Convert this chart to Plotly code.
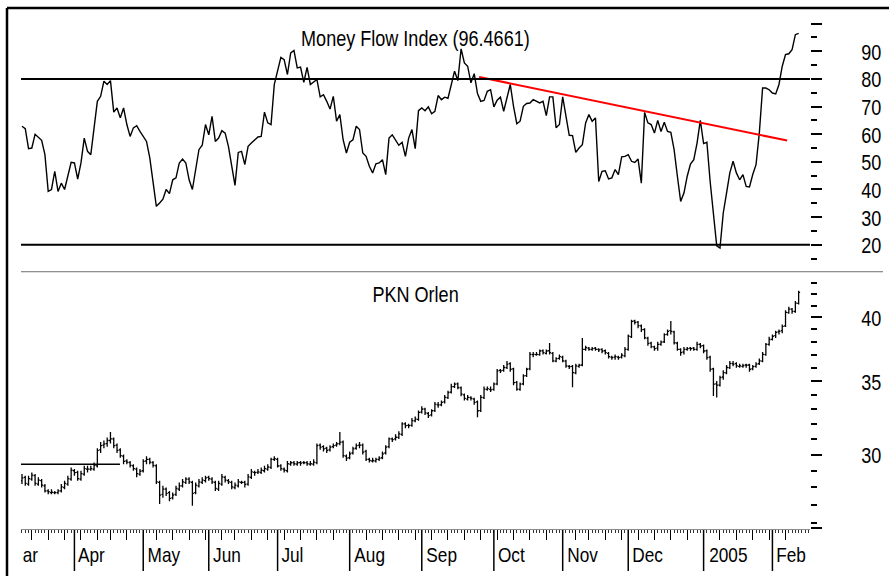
import math
import pandas as pd
import plotly.graph_objects as go

FONT = "Liberation Sans, Arial, Helvetica, sans-serif"
FS = 21

# ---------------- data ----------------
start_date = "2004-03-10"
holidays = ["2004-04-12", "2004-05-03", "2004-06-10", "2004-11-01", "2004-11-11"]

mfi = [
    62.9, 62, 54.8, 55, 60, 59, 57.8, 52.6, 39.3, 40, 46.6, 39.3, 42.3, 40, 44.8, 49.8, 49.6, 43.8, 49.6, 58.6,
    53.8, 52.6, 62.3, 71.9, 73.7, 79.2, 78, 79.4, 68, 69.5, 65.9, 69.5, 63.5, 59.2, 62.3, 63.1, 61, 59.2, 57.4, 51.4,
    43.5, 33.9,
    35.1, 36.5, 40, 38.5, 43.5, 44.2, 49.6, 51, 49.6, 43.5, 40, 47.2, 54.4, 56, 63.5, 59.8, 66.5, 57.4, 58.6, 61.3,
    60.4, 55.6, 48.4, 41.5, 53.4, 53.8, 49, 55.6, 56.8, 58, 59, 59.2, 68, 64.1, 63.5, 78, 82.8, 87.8, 87, 81.6,
    89.4, 90.3, 84, 84.3,
    78.8, 84.2, 78, 78.8, 79.8, 73.5, 74.3, 71.9, 69.1, 73.7, 64.7, 67.1, 58, 53.2, 57.1, 58, 62.9, 61.7, 53.2, 52,
    48.4, 46, 49.3, 49.6, 50.8, 45.4, 58.6, 59.8, 58, 56, 57.1, 52, 58.6, 61.7, 54.8, 68.5, 69.5, 68.5, 69.9, 67.4,
    68.3, 74, 72.5, 73.4, 73, 78, 82.8, 79.4, 90.9, 85.8, 84.6, 78.6, 81.9, 74.7, 71.9, 72.2, 75.5, 76.1, 69.9, 72.3,
    73.4, 68.3, 73.7, 78, 70.1, 63.8, 64.7, 70.1, 71.1, 71.3, 72.5, 71.9, 71.3, 71.9, 66.7, 73.5, 73.5, 62.3, 63.5, 73.5,
    67.1, 59.6, 59.5, 53.4, 55, 56.2, 64.1, 67.1, 64.7, 65.9,
    42.9, 46.6, 46.8, 43.8, 44.2, 47.2, 45.4, 51.8, 52, 52.6, 50.2, 49.8, 51, 42.3, 67.9, 64.1, 63.5, 60.4, 65, 61,
    64.3, 61, 60.7, 54.4, 44.8, 35.7, 38.7, 44.8, 49.2, 50.8, 56.8, 65, 56.6, 57.1, 42.9, 31.5, 19.6, 18.8, 31.5, 38.7,
    46, 50.2, 46, 43.5, 45.4, 41.1, 40.9, 45.4, 49, 60.4, 76.7, 76.7, 76.1, 74.9, 74.6, 78, 84.6, 88.8, 89.1, 90.6,
    96, 96.4661,
]

price_open = [
    28.4, 28.6, 28.2, 28.5, 28.7, 28.2, 28.4, 28.1, 27.8, 27.7,
    27.7, 27.7, 27.8, 28.0, 28.2, 28.5, 29.0, 28.9, 28.5, 28.8,
    29.1, 29.1, 29.1, 29.3, 30.3, 30.6, 30.7, 30.9, 31.0, 30.6,
    30.3, 29.9, 29.6, 29.5, 29.3, 29.1, 28.8, 29.0, 29.6, 29.7,
    29.5, 29.3, 28.3, 27.6, 27.9, 27.7, 27.4, 27.6, 27.9, 28.1,
    28.3, 28.5, 28.3, 27.7, 28.1, 28.3, 28.4, 28.6, 28.5, 28.3,
    27.9, 28.2, 28.6, 28.4, 28.3, 28.0, 28.1, 28.3, 28.3, 28.2,
    28.6, 28.9, 28.9, 28.9, 29.0, 29.1, 29.2, 29.7, 29.7, 29.3,
    29.1, 29.0, 29.4, 29.5, 29.4, 29.5, 29.5, 29.5, 29.4, 29.4,
    29.5, 30.6, 30.5, 30.4, 30.3, 30.5, 30.6, 30.7, 30.8, 29.9,
    29.8, 30.1, 30.4, 30.6, 30.6, 30.2, 29.7, 29.6, 29.6, 29.7,
    29.8, 30.1, 30.5, 31.0, 31.0, 31.1, 31.3, 32.0, 31.9, 31.9,
    32.2, 32.3, 32.8, 33.0, 32.7, 32.6, 32.9, 33.3, 33.3, 33.5,
    33.8, 34.2, 34.6, 34.8, 34.5, 34.0, 33.7, 33.8, 33.7, 33.5,
    32.9, 33.8, 34.4, 34.4, 34.4, 34.8, 35.8, 35.8, 36.0, 36.3,
    35.9, 34.9, 34.4, 34.8, 35.4, 35.9, 37.0, 37.0, 37.0, 37.3,
    37.1, 37.3, 37.1, 36.5, 36.7, 36.8, 36.5, 36.1, 36.1, 35.6,
    36.1, 36.2, 37.4, 37.5, 37.4, 37.5, 37.4, 37.4, 37.3, 37.1,
    36.8, 36.8, 36.8, 36.8, 36.9, 37.4, 38.4, 39.7, 39.6, 39.3,
    39.0, 38.3, 37.9, 37.6, 37.5, 37.8, 38.0, 38.6, 38.9, 38.8,
    37.9, 37.4, 37.2, 37.4, 37.5, 37.5, 37.4, 37.8, 37.7, 37.3,
    36.8, 35.9, 34.8, 34.7, 35.3, 35.6, 36.0, 36.3, 36.3, 36.1,
    36.1, 36.2, 36.2, 35.9, 36.1, 36.3, 36.5, 37.0, 37.8, 38.2,
    38.5, 38.8, 38.9, 39.3, 40.4, 40.7, 40.5, 41.2,
]

price_high = [
    28.8, 28.7, 28.7, 28.9, 28.8, 28.6, 28.5, 28.2, 27.9, 27.9,
    27.8, 27.9, 28.2, 28.4, 28.7, 29.2, 29.1, 29.0, 29.0, 29.3,
    29.3, 29.3, 29.5, 30.4, 30.8, 30.9, 31.1, 31.45, 31.1, 30.7,
    30.4, 30.0, 29.7, 29.6, 29.4, 29.2, 29.1, 29.7, 29.9, 29.8,
    29.6, 29.4, 28.4, 28.1, 28.0, 27.8, 27.7, 28.1, 28.3, 28.5,
    28.6, 28.6, 28.4, 28.3, 28.5, 28.6, 28.7, 28.7, 28.6, 28.4,
    28.4, 28.8, 28.7, 28.5, 28.4, 28.3, 28.5, 28.4, 28.4, 28.8,
    29.1, 29.0, 29.1, 29.2, 29.3, 29.4, 29.8, 29.9, 29.8, 29.4,
    29.2, 29.6, 29.6, 29.6, 29.6, 29.6, 29.6, 29.6, 29.6, 29.7,
    30.7, 30.7, 30.6, 30.5, 30.6, 30.7, 30.8, 31.45, 30.9, 30.0,
    30.2, 30.5, 30.7, 30.8, 30.7, 30.3, 29.8, 29.8, 29.8, 29.9,
    30.2, 30.6, 31.1, 31.1, 31.3, 31.5, 32.1, 32.1, 32.0, 32.4,
    32.5, 32.9, 33.2, 33.1, 32.8, 33.0, 33.5, 33.5, 33.6, 34.0,
    34.3, 34.8, 34.9, 34.9, 34.6, 34.1, 34.0, 33.9, 33.8, 33.6,
    34.0, 34.6, 34.6, 34.6, 34.9, 35.9, 35.9, 36.2, 36.5, 36.4,
    36.0, 35.0, 34.9, 35.5, 36.0, 37.2, 37.2, 37.2, 37.4, 37.4,
    37.4, 37.9, 37.2, 36.8, 37.0, 36.9, 36.6, 36.2, 36.2, 36.3,
    36.3, 38.3, 37.7, 37.6, 37.6, 37.6, 37.5, 37.5, 37.4, 37.2,
    36.9, 37.0, 36.9, 37.1, 37.6, 38.6, 39.8, 39.8, 39.7, 39.4,
    39.1, 38.4, 38.0, 37.7, 38.0, 38.1, 38.7, 39.0, 39.7, 38.9,
    38.0, 37.5, 37.6, 37.6, 37.6, 37.6, 38.0, 37.9, 37.8, 37.4,
    36.9, 36.0, 35.0, 35.4, 35.8, 36.2, 36.5, 36.5, 36.4, 36.3,
    36.3, 36.3, 36.3, 36.2, 36.4, 36.7, 37.2, 37.9, 38.4, 38.6,
    38.9, 39.0, 39.4, 40.6, 40.9, 40.8, 41.4, 42.3,
]

price_low = [
    28.2, 28.1, 28.1, 28.4, 28.1, 28.1, 28.0, 27.7, 27.6, 27.6,
    27.6, 27.6, 27.7, 27.9, 28.1, 28.4, 28.7, 28.4, 28.4, 28.7,
    28.9, 29.0, 29.0, 29.2, 30.1, 30.4, 30.5, 30.7, 30.4, 30.1,
    29.8, 29.4, 29.4, 29.2, 29.0, 28.6, 28.7, 28.9, 29.4, 29.4,
    29.2, 28.2, 27.05, 27.4, 27.5, 27.2, 27.3, 27.5, 27.8, 28.0,
    28.2, 28.2, 26.95, 27.6, 28.0, 28.2, 28.3, 28.4, 28.2, 27.8,
    27.8, 28.1, 28.3, 28.2, 27.9, 27.9, 28.0, 28.2, 28.0, 28.1,
    28.5, 28.7, 28.8, 28.8, 28.9, 29.0, 29.1, 29.6, 29.2, 29.0,
    28.9, 28.9, 29.3, 29.3, 29.3, 29.3, 29.4, 29.3, 29.3, 29.3,
    29.4, 30.3, 30.2, 30.1, 30.2, 30.4, 30.5, 30.6, 29.8, 29.6,
    29.7, 30.0, 30.3, 30.4, 30.0, 29.6, 29.5, 29.5, 29.5, 29.6,
    29.7, 30.0, 30.4, 30.8, 30.9, 31.0, 31.2, 31.7, 31.7, 31.8,
    32.1, 32.2, 32.7, 32.6, 32.4, 32.5, 32.8, 33.1, 33.2, 33.4,
    33.7, 34.1, 34.5, 34.4, 33.9, 33.6, 33.6, 33.6, 33.3, 32.44,
    32.8, 33.7, 34.3, 34.2, 34.3, 34.7, 35.6, 35.7, 35.9, 35.7,
    34.7, 34.3, 34.3, 34.7, 35.3, 35.8, 36.8, 36.9, 36.9, 37.0,
    37.0, 37.0, 36.4, 36.4, 36.6, 36.4, 36.0, 35.9, 34.55, 35.5,
    36.0, 36.1, 37.3, 37.3, 37.3, 37.3, 37.2, 37.1, 37.0, 36.7,
    36.6, 36.6, 36.6, 36.7, 36.8, 37.3, 38.3, 39.4, 39.1, 38.8,
    38.2, 37.7, 37.5, 37.3, 37.3, 37.7, 37.9, 38.5, 38.6, 37.8,
    37.3, 36.9, 37.0, 37.3, 37.3, 37.3, 37.3, 37.5, 37.1, 36.6,
    35.7, 33.93, 33.82, 34.6, 35.1, 35.5, 35.9, 36.1, 36.0, 36.0,
    36.0, 36.0, 35.7, 35.8, 36.0, 36.2, 36.4, 36.9, 37.7, 38.1,
    38.3, 38.6, 38.7, 39.2, 40.3, 40.3, 40.4, 41.1,
]

price_close = [
    28.57, 28.24, 28.53, 28.73, 28.24, 28.43, 28.14, 27.80, 27.75, 27.72,
    27.70, 27.80, 28.04, 28.24, 28.53, 29.03, 28.89, 28.53, 28.83, 29.13,
    29.10, 29.13, 29.33, 30.26, 30.57, 30.68, 30.90, 31.00, 30.57, 30.26,
    29.94, 29.57, 29.53, 29.33, 29.13, 28.83, 28.97, 29.57, 29.70, 29.53,
    29.33, 28.33, 27.56, 27.90, 27.66, 27.37, 27.56, 27.94, 28.10, 28.33,
    28.49, 28.33, 27.66, 28.14, 28.33, 28.43, 28.57, 28.53, 28.33, 27.94,
    28.24, 28.63, 28.43, 28.33, 28.04, 28.14, 28.33, 28.30, 28.18, 28.63,
    28.93, 28.89, 28.93, 29.03, 29.13, 29.23, 29.70, 29.74, 29.29, 29.13,
    29.03, 29.43, 29.49, 29.43, 29.49, 29.47, 29.49, 29.43, 29.43, 29.53,
    30.57, 30.47, 30.36, 30.26, 30.47, 30.57, 30.68, 30.79, 29.94, 29.78,
    30.05, 30.36, 30.57, 30.60, 30.15, 29.70, 29.63, 29.63, 29.70, 29.78,
    30.05, 30.47, 31.00, 30.96, 31.11, 31.33, 31.99, 31.88, 31.88, 32.21,
    32.32, 32.78, 33.01, 32.74, 32.55, 32.89, 33.35, 33.29, 33.47, 33.82,
    34.17, 34.60, 34.77, 34.53, 34.05, 33.75, 33.82, 33.75, 33.47, 32.89,
    33.82, 34.41, 34.45, 34.36, 34.77, 35.76, 35.76, 36.01, 36.26, 35.88,
    34.89, 34.41, 34.77, 35.38, 35.88, 37.02, 37.02, 37.02, 37.28, 37.15,
    37.28, 37.15, 36.51, 36.69, 36.84, 36.51, 36.13, 36.08, 35.63, 36.13,
    36.18, 37.41, 37.54, 37.41, 37.46, 37.40, 37.36, 37.28, 37.15, 36.84,
    36.77, 36.84, 36.77, 36.95, 37.41, 38.45, 39.67, 39.59, 39.31, 38.99,
    38.32, 37.88, 37.62, 37.46, 37.80, 37.98, 38.58, 38.85, 38.85, 37.93,
    37.41, 37.15, 37.41, 37.46, 37.46, 37.41, 37.80, 37.67, 37.28, 36.77,
    35.88, 34.77, 34.70, 35.26, 35.63, 36.01, 36.33, 36.26, 36.13, 36.13,
    36.15, 36.18, 35.88, 36.08, 36.26, 36.51, 37.02, 37.80, 38.19, 38.45,
    38.77, 38.85, 39.26, 40.42, 40.70, 40.51, 41.22, 42.15,
]

mfi_levels = [80, 20]
trend_idx = [139.5, 233.5]
trend_val = [80.7, 57.7]
support_idx = [-0.3, 29.9]
support_val = [29.4, 29.4]

mfi_title = "Money Flow Index (96.4661)"
price_title = "PKN Orlen"
month_labels = ["Apr", "May", "Jun", "Jul", "Aug", "Sep", "Oct", "Nov", "Dec", "2005", "Feb"]
first_partial_label = "ar"

mfi_major = [20, 30, 40, 50, 60, 70, 80, 90, 100]
mfi_minor = [15, 25, 35, 45, 55, 65, 75, 85, 95]
mfi_labels = [20, 30, 40, 50, 60, 70, 80, 90]
price_major = [25.7, 30, 35, 40]
price_minor = [26, 27, 28, 29, 31, 32, 33, 34, 36, 37, 38, 39, 41, 42, 43]
price_labels = [30, 35, 40]

# ---------------- derived axis positions ----------------
n = len(price_close)
dates = pd.bdate_range(start_date, periods=n, freq="C", holidays=holidays)
idx_p = list(range(n))
idx_m = list(range(len(mfi)))
month_starts = [i for i in range(1, n) if dates[i].month != dates[i - 1].month]
week_starts = [i for i in range(1, n) if dates[i].weekday() < dates[i - 1].weekday()]

# ---------------- figure ----------------
W, H = 889, 576
ML, MR, MT, MB = 21, 79, 8, 46.5
PW = W - ML - MR
PH = H - MT - MB
split = (529.5 - 272) / PH
label_x = (857 - ML) / PW

fig = go.Figure()
fig.add_trace(go.Scatter(x=idx_m, y=mfi, mode="lines", xaxis="x", yaxis="y",
                         line=dict(color="black", width=1.4), showlegend=False))
fig.add_trace(go.Scatter(x=trend_idx, y=trend_val, mode="lines", xaxis="x", yaxis="y",
                         line=dict(color="#ff0000", width=2), showlegend=False))
fig.add_trace(go.Ohlc(x=idx_p, open=price_open, high=price_high, low=price_low, close=price_close,
                      xaxis="x", yaxis="y2", tickwidth=0.45,
                      increasing=dict(line=dict(color="black", width=1.3)),
                      decreasing=dict(line=dict(color="black", width=1.3)),
                      showlegend=False))
fig.add_trace(go.Scatter(x=support_idx, y=support_val, mode="lines", xaxis="x", yaxis="y2",
                         line=dict(color="black", width=1.5), showlegend=False))

shapes = []
for lv in mfi_levels:
    shapes.append(dict(type="line", xref="paper", yref="y", x0=0, x1=1, y0=lv, y1=lv,
                       line=dict(color="black", width=2)))
# separator between panels
shapes.append(dict(type="line", xref="paper", yref="paper", x0=0, x1=(883 - ML) / PW,
                   y0=split, y1=split, line=dict(color="#6e6e6e", width=1)))
# outer frame
fx = (7 - ML) / PW
shapes.append(dict(type="line", xref="paper", yref="paper", x0=fx, x1=(W - ML) / PW + 0.01,
                   y0=1.0, y1=1.0, line=dict(color="black", width=2.5)))
shapes.append(dict(type="line", xref="paper", yref="paper", x0=fx, x1=fx,
                   y0=1.0, y1=-0.12, line=dict(color="black", width=2.5)))
# month separators on the date axis
for i in month_starts:
    shapes.append(dict(type="line", xref="x", yref="paper", ysizemode="pixel", yanchor=0,
                       x0=i, x1=i, y0=-1, y1=-42, line=dict(color="black", width=1.5)))

lab_font = dict(family=FONT, size=FS + 1, color="black")
annotations = [
    dict(text=mfi_title, xref="paper", yref="paper", x=0.5, y=1 - (39 - MT) / PH,
         xanchor="center", yanchor="middle", showarrow=False, font=lab_font),
    dict(text=price_title, xref="paper", yref="paper", x=0.5, y=1 - (295 - MT) / PH,
         xanchor="center", yanchor="middle", showarrow=False, font=lab_font),
    dict(text=first_partial_label, xref="paper", yref="paper", x=0, y=0,
         xanchor="left", yanchor="middle", yshift=-25, xshift=-2, showarrow=False,
         font=dict(family=FONT, size=FS, color="black")),
]
for i, lab in zip(month_starts, month_labels):
    annotations.append(dict(text=lab, xref="x", yref="paper", x=i, y=0,
                            xanchor="left", yanchor="middle", xshift=-1, yshift=-25,
                            showarrow=False, font=dict(family=FONT, size=FS, color="black")))
# right-hand value labels
for v in mfi_labels:
    annotations.append(dict(text=str(v), xref="paper", yref="y", x=label_x, y=v,
                            xanchor="left", yanchor="middle", yshift=-1, showarrow=False,
                            font=lab_font))
for v in price_labels:
    annotations.append(dict(text=str(v), xref="paper", yref="y2", x=label_x, y=math.log10(v),
                            xanchor="left", yanchor="middle", yshift=-1, showarrow=False,
                            font=lab_font))

fig.update_layout(
    width=W, height=H, autosize=False,
    margin=dict(l=ML, r=MR, t=MT, b=MB, pad=0, autoexpand=False),
    paper_bgcolor="white", plot_bgcolor="white",
    font=dict(family=FONT, size=FS, color="black"),
    showlegend=False,
    xaxis=dict(anchor="y2", range=[-0.3, -0.3 + PW / 3.277], showgrid=False, zeroline=False,
               automargin=False,
               showline=True, linecolor="#8c8c8c", linewidth=1,
               tickmode="array", tickvals=week_starts, ticks="outside", ticklen=10,
               tickcolor="black", tickwidth=1, showticklabels=False,
               minor=dict(tickmode="linear", tick0=0, dtick=1, ticks="outside", ticklen=3,
                          tickcolor="#333333", tickwidth=1),
               rangeslider=dict(visible=False), fixedrange=True),
    yaxis=dict(domain=[split, 1], range=[20 - (272 - 245) / 2.7667, 80 + (79 - 8) / 2.7667],
               side="right", anchor="x", showgrid=False, zeroline=False, showline=False,
               automargin=False, showticklabels=False,
               tickmode="array", tickvals=mfi_major,
               ticks="outside", ticklen=11, tickwidth=2, tickcolor="black",
               minor=dict(tickmode="array", tickvals=mfi_minor, ticks="outside", ticklen=6,
                          tickwidth=2, tickcolor="black")),
    yaxis2=dict(domain=[0, split], type="log", range=[1.40934, 1.64364],
                side="right", anchor="x", showgrid=False, zeroline=False, showline=False,
                automargin=False, showticklabels=False,
                tickmode="array", tickvals=price_major,
                ticks="outside", ticklen=11, tickwidth=2, tickcolor="black",
                minor=dict(tickmode="array", tickvals=price_minor, ticks="outside", ticklen=6,
                           tickwidth=2, tickcolor="black")),
    shapes=shapes,
    annotations=annotations,
)

# narrow (Arial-Narrow-like) rendering of every text element, and no page margin
post = """
document.body.style.margin = '0';
var gd = document.getElementById('{plot_id}');
gd.querySelectorAll('svg text').forEach(function (t) {
  var L = t.getComputedTextLength();
  if (L > 0) {
    t.setAttribute('textLength', (L * 0.82).toFixed(2));
    t.setAttribute('lengthAdjust', 'spacingAndGlyphs');
  }
});
"""

fig.write_html("out.html", config={"displayModeBar": False, "staticPlot": True}, post_script=post)
